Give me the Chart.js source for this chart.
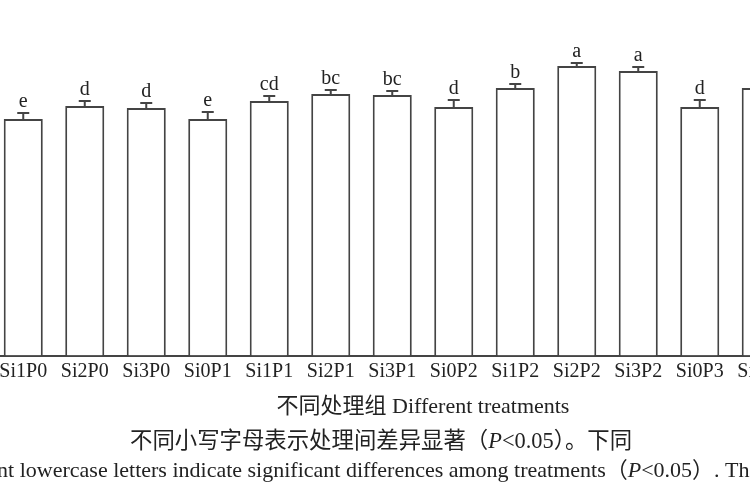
<!DOCTYPE html>
<html>
<head>
<meta charset="utf-8">
<script src="https://cdn.jsdelivr.net/npm/chart.js@4"></script>
<style>
  html, body { margin:0; padding:0; background:#fff; }
  body { width:750px; height:500px; overflow:hidden; position:relative; }
  #wrap { position:absolute; left:-69px; top:0; width:984px; height:425px; }
  .cap { position:absolute; color:#222; font-family:"Liberation Serif","Noto Sans CJK SC",serif; white-space:nowrap; }
  #c1 { top:422px; left:130px; font-size:22.4px; }
  #c2 { top:451px; left:-66px; font-size:22px; }
</style>
</head>
<body>
<div id="wrap"><canvas id="chart"></canvas></div>
<div class="cap" id="c1">不同小写字母表示处理间差异显著（<i>P</i>&lt;0.05）。下同</div>
<div class="cap" id="c2">Different lowercase letters indicate significant differences among treatments（<i>P</i>&lt;0.05）. The same below.</div>
<script>
const categories = ["Si0P0","Si1P0","Si2P0","Si3P0","Si0P1","Si1P1","Si2P1","Si3P1","Si0P2","Si1P2","Si2P2","Si3P2","Si0P3","Si1P3","Si2P3","Si3P3"];
const means  = [null, 2.37, 2.50, 2.48, 2.37, 2.55, 2.62, 2.61, 2.49, 2.68, 2.90, 2.85, 2.49, 2.68, null, null];
const errors = [null, 0.06, 0.05, 0.05, 0.07, 0.05, 0.04, 0.04, 0.07, 0.04, 0.03, 0.04, 0.07, 0.04, null, null];
const letters = ["", "e", "d", "d", "e", "cd", "bc", "bc", "d", "b", "a", "a", "d", "", "", ""];

const serif = '"Liberation Serif","Noto Sans CJK SC",serif';

const errPlugin = {
  id: 'errLetters',
  afterDatasetsDraw(chart) {
    const ctx = chart.ctx;
    const meta = chart.getDatasetMeta(0);
    const y = chart.scales.y;
    ctx.save();
    meta.data.forEach((bar, i) => {
      if (means[i] == null) return;
      const x = bar.x;
      const yTop = y.getPixelForValue(means[i]);
      const yErr = y.getPixelForValue(means[i] + errors[i]);
      ctx.strokeStyle = '#444';
      ctx.lineWidth = 2;
      ctx.beginPath();
      ctx.moveTo(x, yTop);
      ctx.lineTo(x, yErr);
      ctx.moveTo(x - 6, yErr);
      ctx.lineTo(x + 6, yErr);
      ctx.stroke();
      if (letters[i]) {
        ctx.fillStyle = '#222';
        ctx.font = '20px ' + serif;
        ctx.textAlign = 'center';
        ctx.textBaseline = 'alphabetic';
        ctx.fillText(letters[i], x, yErr - 6);
      }
    });
    ctx.restore();
  }
};

new Chart(document.getElementById('chart'), {
  type: 'bar',
  data: {
    labels: categories,
    datasets: [{
      data: means,
      backgroundColor: '#ffffff',
      borderColor: '#444',
      borderWidth: 2,
      categoryPercentage: 1.0,
      barPercentage: 0.635
    }]
  },
  options: {
    responsive: true,
    maintainAspectRatio: false,
    animation: false,
    layout: { padding: { top: 16, bottom: 5, left: 0, right: 0 } },
    plugins: { legend: { display: false }, tooltip: { enabled: false } },
    scales: {
      x: {
        grid: { display: true, drawOnChartArea: false, drawTicks: false },
        border: { display: true, color: '#444', width: 2 },
        ticks: { color: '#222', font: { family: serif, size: 20 }, padding: 4, maxRotation: 0, autoSkip: false },
        title: { display: true, text: '不同处理组 Different treatments', color: '#222',
                 font: { family: serif, size: 22 }, padding: { top: 6, bottom: 0 } }
      },
      y: { display: false, min: 0, max: 3.4 }
    }
  },
  plugins: [errPlugin]
});
</script>
</body>
</html>
